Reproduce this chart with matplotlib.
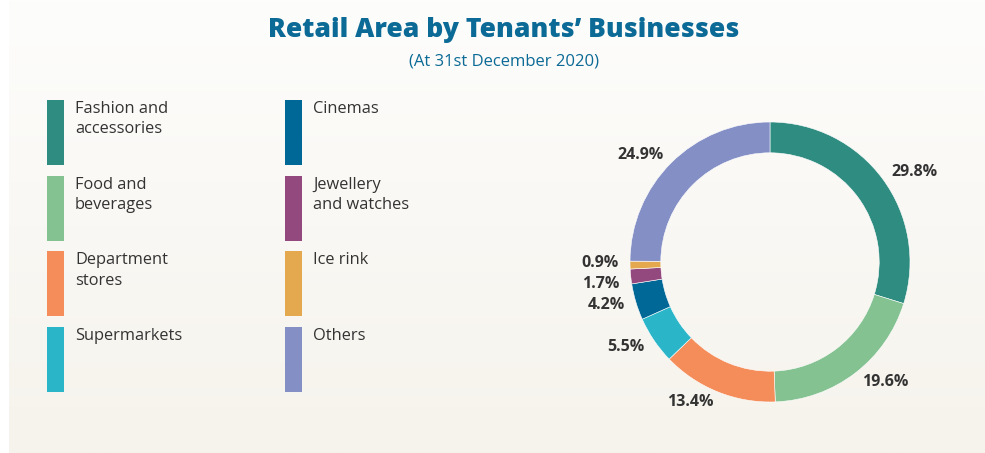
import numpy as np
import matplotlib
matplotlib.use('Agg')
import matplotlib.pyplot as plt
from matplotlib.patches import Rectangle

plt.rcParams['font.family'] = ['Open Sans', 'DejaVu Sans']

# data
categories = ['Fashion and\naccessories', 'Food and\nbeverages', 'Department\nstores',
              'Supermarkets', 'Cinemas', 'Jewellery\nand watches', 'Ice rink', 'Others']
shares = [29.8, 19.6, 13.4, 5.5, 4.2, 1.7, 0.9, 24.9]
colors = ['#2f8c80', '#84c292', '#f58d5a', '#2bb5c9', '#006896', '#93487e', '#e4a94f', '#838fc5']

W, H = 985, 453
fig = plt.figure(figsize=(W / 100, H / 100), dpi=100)
fig.patch.set_facecolor('white')

# soft beige panel with vertical gradient
bg = fig.add_axes([9 / W, 0, 1 - 9 / W, 1], zorder=-10)
grad = np.linspace(0, 1, 256).reshape(-1, 1)
top = np.array([253, 253, 252]) / 255
bot = np.array([246, 243, 236]) / 255
img = top + (bot - top) * grad[..., None]
bg.imshow(img, aspect='auto', extent=[0, 1, 0, 1])
bg.axis('off')

# title
fig.text(504 / W, 1 - 30 / H, 'Retail Area by Tenants\u2019 Businesses', ha='center', va='center',
         fontsize=19.1, fontweight=800, color='#0b6a96')
fig.text(504 / W, 1 - 62 / H, '(At 31st December 2020)', ha='center', va='center',
         fontsize=12, color='#0b6a96')

# legend: two columns of four
for i, (lab, c) in enumerate(zip(categories, colors)):
    col, row = divmod(i, 4)
    x0 = [47, 285][col]
    y0 = 100 + row * 75.7
    fig.patches.append(Rectangle((x0 / W, 1 - (y0 + 65) / H), 17 / W, 65 / H,
                                 transform=fig.transFigure, facecolor=c, edgecolor='none'))
    fig.text((x0 + 28) / W, 1 - (y0 + 1) / H, lab, ha='left', va='top',
             fontsize=11.8, color='#333333', linespacing=1.36)

# donut
cx, cy, r = 770, 262, 140
ax = fig.add_axes([(cx - r) / W, 1 - (cy + r) / H, 2 * r / W, 2 * r / H])
wedges, texts = ax.pie(shares, colors=colors, startangle=90, counterclock=False,
                       radius=1, wedgeprops=dict(width=0.22, edgecolor='white', linewidth=0.4),
                       labels=[f'{v}%' for v in shares], labeldistance=1.08,
                       textprops=dict(fontsize=11.5, fontweight='bold', color='#333333'))
# spread the two tiny slices' labels apart
for t, dy in ((texts[5], -0.045), (texts[6], 0.02)):
    x, y = t.get_position()
    t.set_position((x, y + dy))
ax.set_xlim(-1, 1)
ax.set_ylim(-1, 1)
ax.axis('off')

fig.savefig('out.png', dpi=100)
